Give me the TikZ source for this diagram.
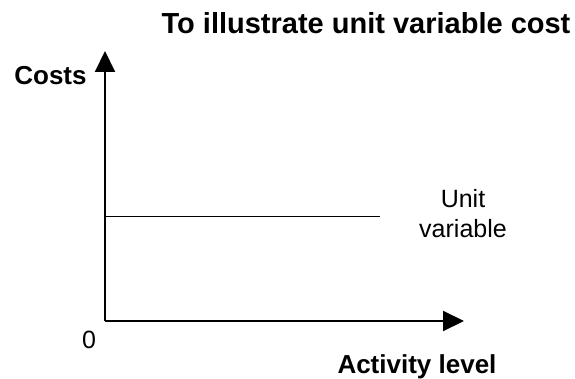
\documentclass[tikz,border=0pt]{standalone}
\usepackage{fontspec}
\setmainfont{Liberation Sans}
\usetikzlibrary{arrows.meta}
\begin{document}
\begin{tikzpicture}[x=1pt,y=-1pt,
    axis/.style={line width=2pt,-{Triangle[length=21pt,width=20pt]}},
    heading/.style={font=\fontsize{26}{30}\selectfont\bfseries},
    plain/.style={font=\fontsize{25}{29}\selectfont}]
  \useasboundingbox (0,0) rectangle (575,379);
  \coordinate (origin) at (105,321);
  \coordinate (ytop) at (105,51);
  \coordinate (xtop) at (464,321);
  \coordinate (unitstart) at (105,216.5);
  \coordinate (unitend) at (380,216.5);
  % axes
  \draw[axis] (origin) -- (ytop);
  \draw[axis] (origin) -- (xtop);
  \draw[line width=1.8pt] (unitstart) -- (unitend);
  % labels
  \node[heading,font=\fontsize{29}{34}\selectfont\bfseries,anchor=base] (title) at (366,34) {To illustrate unit variable cost};
  \node[heading,anchor=base] (costs) at (50.5,85) {Costs};
  \node[heading,anchor=base] (activity) at (417,373) {Activity level};
  \node[plain,anchor=base] (zero) at (89,348) {0};
  \node[plain,anchor=base,align=center] (unit) at (463,237) {Unit\\variable};
\end{tikzpicture}
\end{document}
